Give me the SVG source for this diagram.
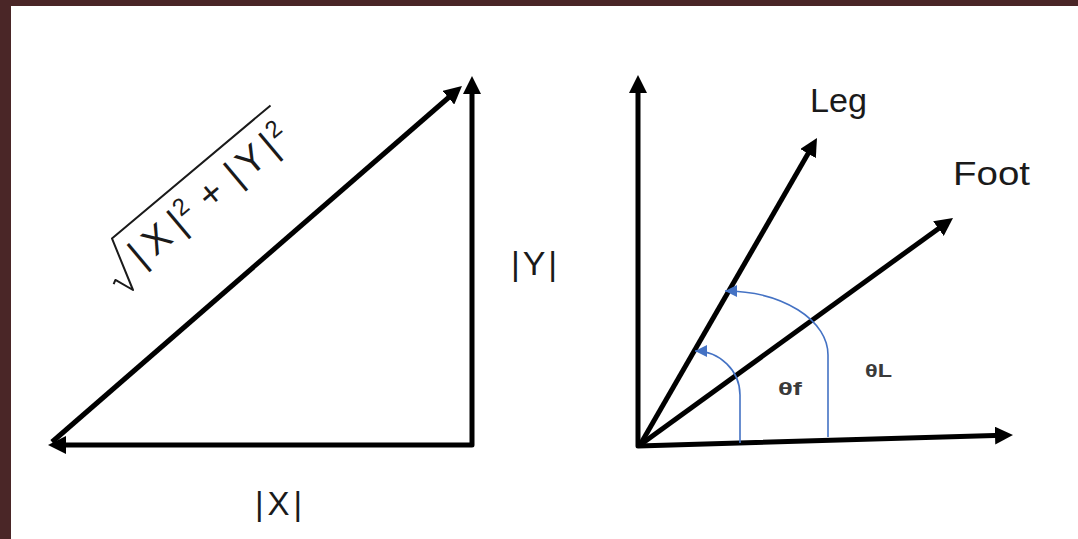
<svg xmlns="http://www.w3.org/2000/svg" width="1078" height="539" viewBox="0 0 1078 539">
<style>
.ln{fill:none;stroke:#000;stroke-width:5;stroke-linejoin:round;stroke-linecap:butt}
.bl{fill:none;stroke:#4472c4;stroke-width:1.6}
.lbl{font-family:"Liberation Sans",Arial,sans-serif;fill:#1a1a1a}
.m{font-family:"Liberation Sans",Arial,sans-serif;font-size:38px;fill:#1a1a1a;text-anchor:middle}
.sup{font-size:24px}
.th{font-family:"Liberation Sans",Arial,sans-serif;font-size:19px;font-weight:bold;fill:#3a3a3a}
</style>
<defs>
<marker id="ah" markerUnits="userSpaceOnUse" viewBox="0 0 18 18" refX="8" refY="9" markerWidth="18" markerHeight="18" orient="auto-start-reverse"><path d="M0,0 L18,9 L0,18 z" fill="#000"/></marker>
<marker id="ahb" markerUnits="userSpaceOnUse" viewBox="0 0 12 12" refX="12" refY="6" markerWidth="12" markerHeight="12" orient="auto"><path d="M0,0 L12,6 L0,12 z" fill="#4472c4"/></marker>
</defs>
<rect x="0" y="0" width="1078" height="539" fill="#fff"/>
<g id="frame">
<rect x="0" y="0" width="1078" height="6" fill="#4a2627"/>
<rect x="0" y="0" width="11" height="539" fill="#4a2627"/>
</g>
<g id="connectors">
<path id="x-y-legs" class="ln" d="M472,86 L472,445 L58,445" marker-start="url(#ah)" marker-end="url(#ah)"/>
<path id="hypotenuse" class="ln" d="M52,442 L454.4,92.5" marker-end="url(#ah)"/>
<path id="axes" class="ln" d="M638,85 L638,446 L1003,435.3" marker-start="url(#ah)" marker-end="url(#ah)"/>
<path id="leg-vec" class="ln" d="M640,445 L812,146.7" marker-end="url(#ah)"/>
<path id="foot-vec" class="ln" d="M640,445 L944.9,223.9" marker-end="url(#ah)"/>
<path id="theta-L-arc" class="bl" d="M828,437 L828,355 A103,64 0 0 0 725,291" marker-end="url(#ahb)"/>
<path id="theta-f-arc" class="bl" d="M740,443 L740,395 A45,44 0 0 0 695,351" marker-end="url(#ahb)"/>
</g>
<g id="hyp-label" transform="translate(133,290) rotate(-40)">
<path d="M-11,-17 L-7,-19 L0,0 L17,-53 L224,-53" fill="none" stroke="#1a1a1a" stroke-width="2" stroke-linejoin="round"/>
<text class="m" y="-11"><tspan x="25.5">|</tspan><tspan x="51">X</tspan><tspan x="77">|</tspan><tspan class="sup" x="90" y="-25">2</tspan><tspan x="121.4" y="-11">+</tspan><tspan x="151.2">|</tspan><tspan x="174">Y</tspan><tspan x="197.4">|</tspan><tspan class="sup" x="211" y="-25">2</tspan></text>
</g>
<g id="label-x"><text class="lbl" x="255" y="515" font-size="33" textLength="47" lengthAdjust="spacing">|X|</text></g>
<g id="label-y"><text class="lbl" x="511" y="275" font-size="34" textLength="46" lengthAdjust="spacing">|Y|</text></g>
<g id="label-leg"><text class="lbl" x="810" y="112" font-size="33" textLength="57" lengthAdjust="spacingAndGlyphs">Leg</text></g>
<g id="label-foot"><text class="lbl" x="953" y="185" font-size="34" textLength="77" lengthAdjust="spacingAndGlyphs">Foot</text></g>
<g id="label-theta-f"><text class="th" x="778" y="395" textLength="24" lengthAdjust="spacingAndGlyphs">θf</text></g>
<g id="label-theta-L"><text class="th" x="865" y="377" textLength="27" lengthAdjust="spacingAndGlyphs">θL</text></g>
</svg>
